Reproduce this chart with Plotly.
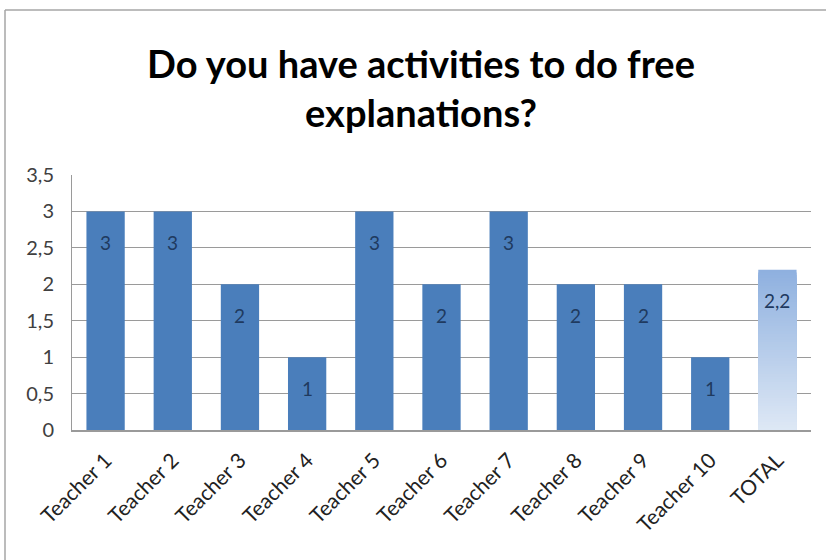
import plotly.graph_objects as go

categories = ["Teacher 1", "Teacher 2", "Teacher 3", "Teacher 4", "Teacher 5",
              "Teacher 6", "Teacher 7", "Teacher 8", "Teacher 9", "Teacher 10"]
values = [3, 3, 2, 1, 3, 2, 3, 2, 2, 1]
total_label = "TOTAL"
total_value = 2.2
y_ticks = [0, 0.5, 1, 1.5, 2, 2.5, 3, 3.5]
y_tick_text = ["0", "0,5", "1", "1,5", "2", "2,5", "3", "3,5"]
title = "Do you have activities to do free<br>explanations?"

W, H = 826, 560
ML, MR, MT, MB = 72, 15, 175, 130
bar_color = "#4A7EBB"
label_color = "#1F3A5F"
font_family = "Lato, 'Open Sans', sans-serif"

all_cats = categories + [total_label]

fig = go.Figure()
fig.add_trace(go.Bar(x=categories, y=values, marker=dict(color=bar_color, line=dict(width=0)),
                     hoverinfo="skip", showlegend=False))

# gradient TOTAL bar: overlaid bars of decreasing height, each coloured for its top
N = 60
top_rgb = (0x8E, 0xB0, 0xDF)
bot_rgb = (0xDE, 0xE8, 0xF5)
for i in range(N):
    frac = (N - i) / N
    t = (N - i - 0.5) / N
    c = tuple(int(round(bot_rgb[k] + (top_rgb[k] - bot_rgb[k]) * t)) for k in range(3))
    fig.add_trace(go.Bar(x=[total_label], y=[total_value * frac],
                         marker=dict(color="rgb(%d,%d,%d)" % c, line=dict(width=0)),
                         hoverinfo="skip", showlegend=False))

# data labels
for cat, v, txt in zip(all_cats, values + [total_value],
                       [str(v) for v in values] + ["2,2"]):
    fig.add_annotation(x=cat, y=v, text=txt, showarrow=False, yshift=-31,
                       font=dict(family=font_family, size=19, color=label_color))

# outer chart border
px = lambda x: (x - ML) / (W - ML - MR)
py = lambda y: (H - MB - y) / (H - MT - MB)
fig.add_shape(type="line", xref="paper", yref="paper", x0=px(5), x1=px(830), y0=py(10), y1=py(10),
              line=dict(color="#A6A6A6", width=1.5))
fig.add_shape(type="line", xref="paper", yref="paper", x0=px(5), x1=px(5), y0=py(10), y1=py(565),
              line=dict(color="#A6A6A6", width=1.5))

fig.update_layout(
    width=W, height=H,
    margin=dict(l=ML, r=MR, t=MT, b=MB),
    paper_bgcolor="white", plot_bgcolor="white",
    barmode="overlay", bargap=0.43,
    title=dict(text=title, x=421 / W, xanchor="center", y=1 - 78 / H, yanchor="middle",
               font=dict(family=font_family, size=38, color="black", weight="bold")),
    font=dict(family=font_family, color="#404040"),
)
fig.update_xaxes(categoryorder="array", categoryarray=all_cats, tickangle=-45,
                 tickfont=dict(size=21, color="#222222"), showline=True, linecolor="#9A9A9A",
                 linewidth=1.5, ticks="", showgrid=False, range=[-0.5, 10.5],
                 ticklabelstandoff=8)
fig.update_yaxes(range=[0, 3.5], tickvals=y_ticks, ticktext=y_tick_text,
                 tickfont=dict(size=20, color="#404040"), showgrid=True, gridcolor="#9A9A9A",
                 gridwidth=1, showline=True, linecolor="#9A9A9A", linewidth=1, ticks="",
                 zeroline=False, ticklabelstandoff=13)

fig.write_html("out.html")
